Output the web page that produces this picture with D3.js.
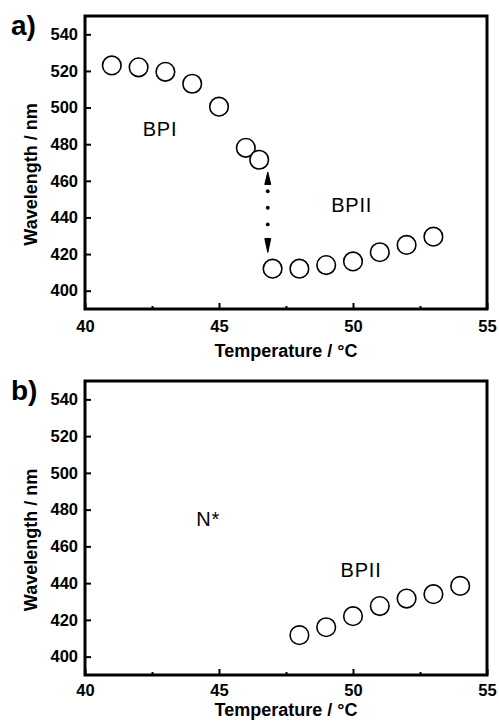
<!DOCTYPE html>
<html>
<head>
<meta charset="utf-8">
<script src="https://cdn.jsdelivr.net/npm/d3@7"></script>
<style>
  body { margin: 0; background: #fff; }
  text { font-family: "Liberation Sans", Arial, sans-serif; fill: #000; }
</style>
</head>
<body>
<div id="chart"></div>
<script>
// panel a) data
const tempA = [41, 42, 43, 44, 45, 46, 46.5, 47, 48, 49, 50, 51, 52, 53];
const waveA = [523, 522, 519.5, 513, 500.5, 478, 471.5, 412, 412, 414, 416, 421, 425, 429.5];
// panel b) data
const tempB = [48, 49, 50, 51, 52, 53, 54];
const waveB = [411.7, 416, 422, 427.5, 431.6, 434, 438.5];

const xTicks = [40, 45, 50, 55];
const xMinor = [42.5, 47.5, 52.5];
const yTicks = [400, 420, 440, 460, 480, 500, 520, 540];

// dotted arrow between the BPI and BPII branches (panel a)
const arrowT = 46.82;
const arrowDots = [454.3, 445.3, 436.2];
const arrowHeads = [
  { tip: 464.8, base: 458 },
  { tip: 420.9, base: 428.5 }
];

const width = 499, height = 725;
const left = 85, right = 487;

const svg = d3.select("#chart").append("svg")
  .attr("width", width)
  .attr("height", height);

const x = d3.scaleLinear().domain([40, 55]).range([left, right]);

function drawPanel(top, bottom, titleY, pad, temps, waves, letter, labels) {
  const y = d3.scaleLinear().domain([390, 550]).range([bottom, top]);
  const g = svg.append("g");

  // ticks (inward)
  g.append("g")
    .attr("transform", `translate(0,${bottom})`)
    .call(d3.axisBottom(x).tickValues(xTicks).tickSize(-6).tickPadding(pad).tickFormat(d3.format("d")));
  g.append("g")
    .attr("transform", `translate(0,${bottom})`)
    .call(d3.axisBottom(x).tickValues(xMinor).tickSize(-3).tickFormat(""));
  g.append("g")
    .attr("transform", `translate(${left},0)`)
    .call(d3.axisLeft(y).tickValues(yTicks).tickSize(-6).tickPadding(7));

  g.selectAll(".domain").remove();
  g.selectAll(".tick line").attr("stroke", "#000").attr("stroke-width", 2);
  g.selectAll(".tick text")
    .style("font-family", '"Liberation Sans", Arial, sans-serif')
    .style("font-size", "16.5px")
    .style("font-weight", "bold")
    .attr("fill", "#000");

  // frame
  g.append("rect")
    .attr("x", left).attr("y", top)
    .attr("width", right - left).attr("height", bottom - top)
    .attr("fill", "none").attr("stroke", "#000").attr("stroke-width", 3);

  // axis titles
  g.append("text")
    .attr("x", 286).attr("y", titleY)
    .attr("text-anchor", "middle")
    .style("font-size", "18px").style("font-weight", "bold")
    .text("Temperature / °C");
  g.append("text")
    .attr("transform", `translate(37,${(top + bottom) / 2 + 12}) rotate(-90)`)
    .attr("text-anchor", "middle")
    .style("font-size", "18px").style("font-weight", "bold")
    .text("Wavelength / nm");

  // panel letter
  g.append("text")
    .attr("x", 11).attr("y", top + 19)
    .style("font-size", "28px").style("font-weight", "bold")
    .text(letter);

  // phase labels
  g.selectAll(".phase").data(labels).join("text")
    .attr("class", "phase")
    .attr("x", d => x(d.t)).attr("y", d => y(d.w))
    .attr("text-anchor", "middle")
    .style("font-size", "20px").style("letter-spacing", "0.8px")
    .text(d => d.text);

  // points
  g.selectAll("circle.pt").data(temps).join("circle")
    .attr("class", "pt")
    .attr("cx", d => x(d))
    .attr("cy", (d, i) => y(waves[i]))
    .attr("r", 9.3)
    .attr("fill", "#fff")
    .attr("stroke", "#000")
    .attr("stroke-width", 1.6);

  return { g, y };
}

const pa = drawPanel(16, 309, 357, 11, tempA, waveA, "a)", [
  { text: "BPI", t: 42.8, w: 484.5 },
  { text: "BPII", t: 49.95, w: 443 }
]);
drawPanel(381, 675, 716, 9, tempB, waveB, "b)", [
  { text: "N*", t: 44.6, w: 471 },
  { text: "BPII", t: 50.3, w: 443.5 }
]);

const yA = pa.y;
pa.g.selectAll(".dot").data(arrowDots).join("circle")
  .attr("class", "dot")
  .attr("cx", x(arrowT))
  .attr("cy", d => yA(d))
  .attr("r", 1.9)
  .attr("fill", "#000");
pa.g.selectAll(".head").data(arrowHeads).join("path")
  .attr("class", "head")
  .attr("d", d => {
    const cx = x(arrowT);
    return `M${cx},${yA(d.tip)}L${cx - 3},${yA(d.base)}L${cx + 3},${yA(d.base)}Z`;
  })
  .attr("fill", "#000")
  .attr("stroke", "#000")
  .attr("stroke-width", 1)
  .attr("stroke-linejoin", "round");
</script>
</body>
</html>
